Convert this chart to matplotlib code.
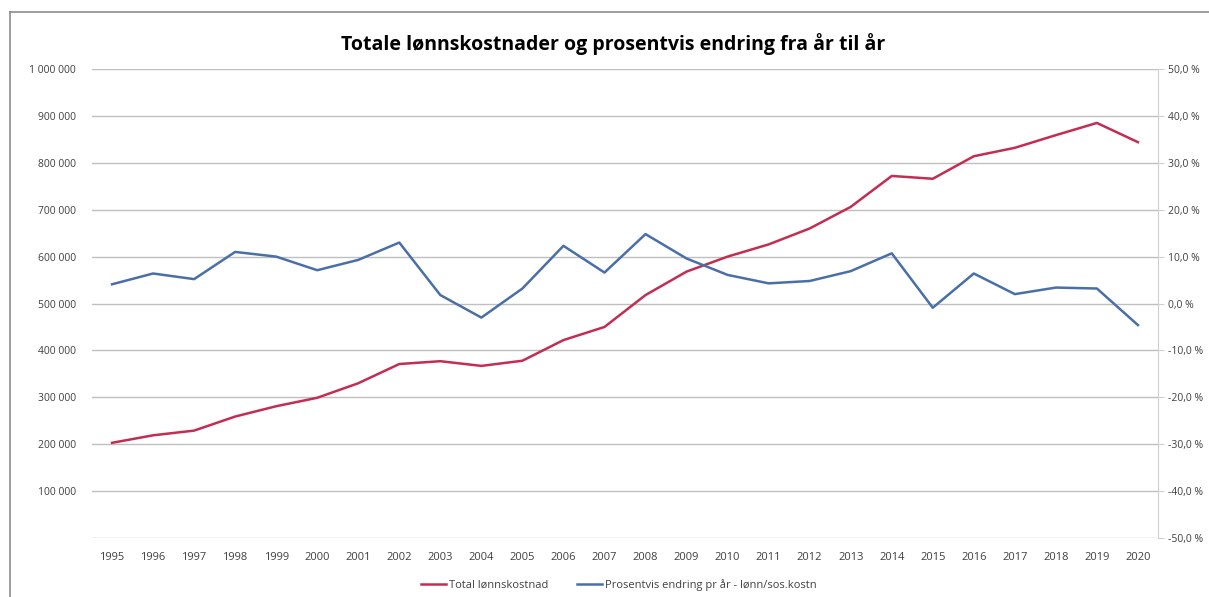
import matplotlib.pyplot as plt
from matplotlib.lines import Line2D
from matplotlib.ticker import FuncFormatter

# Data
years = list(range(1995, 2021))
total_kost = [203000, 219000, 229000, 259000, 281000, 299000, 330000, 371000, 377000, 367000,
              378000, 422000, 450000, 518000, 568000, 600000, 626000, 660000, 706000, 772000,
              766000, 814000, 832000, 859000, 885000, 844000]
endring_pct = [4.1, 6.4, 5.2, 11.0, 10.0, 7.1, 9.3, 13.0, 1.8, -3.0,
               3.2, 12.3, 6.6, 14.8, 9.6, 6.1, 4.3, 4.8, 6.9, 10.7,
               -0.9, 6.4, 2.0, 3.4, 3.2, -4.6]

red = "#C42D52"
blue = "#4A6FA8"
grid_col = "#BFBFBF"
txt_col = "#404040"
font = "Open Sans"

plt.rcParams["font.family"] = [font, "DejaVu Sans"]

fig = plt.figure(figsize=(12.09, 5.97), dpi=100)
ax1 = fig.add_axes([0.0757, 0.0988, 0.8825, 0.7856])
ax2 = ax1.twinx()

# Frame around the chart (top and left visible)
fig.add_artist(Line2D([10 / 1209, 10 / 1209], [0, 1 - 12 / 597], transform=fig.transFigure,
                      color="#8C8C8C", lw=1.2))
fig.add_artist(Line2D([10 / 1209, 1], [1 - 12 / 597, 1 - 12 / 597], transform=fig.transFigure,
                      color="#8C8C8C", lw=1.2))

ax1.plot(years, total_kost, color=red, lw=1.8, label="Total lønnskostnad", zorder=3)
ax2.plot(years, endring_pct, color=blue, lw=1.8, label="Prosentvis endring pr år - lønn/sos.kostn", zorder=3)

ax1.set_xlim(1994.5, 2020.5)
ax1.set_ylim(0, 1000000)
ax2.set_ylim(-50, 50)

ax1.set_yticks(range(100000, 1000001, 100000))
ax1.yaxis.set_major_formatter(FuncFormatter(lambda v, p: f"{int(v):,}".replace(",", " ")))
ax2.set_yticks(range(-50, 51, 10))
ax2.yaxis.set_major_formatter(FuncFormatter(lambda v, p: f"{v:.1f} %".replace(".", ",")))
ax1.set_xticks(years)

for y in range(0, 1000001, 100000):
    ax1.axhline(y, color=grid_col, lw=1, zorder=0)

for s in ["top", "left", "bottom", "right"]:
    ax1.spines[s].set_visible(False)
    ax2.spines[s].set_visible(False)
ax2.spines["right"].set_visible(True)
ax2.spines["right"].set_color("#D0D0D0")

ax1.tick_params(axis="y", length=0, labelsize=7.5, labelcolor=txt_col, pad=11)
ax1.tick_params(axis="x", length=0, labelsize=8, labelcolor=txt_col, pad=10)
ax2.tick_params(axis="y", length=4, color="#D0D0D0", labelsize=7.5, labelcolor=txt_col, pad=3)

fig.text(0.507, 0.927, "Totale lønnskostnader og prosentvis endring fra år til år",
         ha="center", va="center", fontsize=14, fontweight="bold", color="black")

h1, l1 = ax1.get_legend_handles_labels()
h2, l2 = ax2.get_legend_handles_labels()
fig.legend(h1 + h2, l1 + l2, loc="center", bbox_to_anchor=(0.512, 0.02), ncol=2,
           frameon=False, fontsize=8, labelcolor=txt_col, handlelength=2.2,
           handletextpad=0.3, columnspacing=2.6)

fig.savefig("out.png", dpi=100, facecolor="white")
